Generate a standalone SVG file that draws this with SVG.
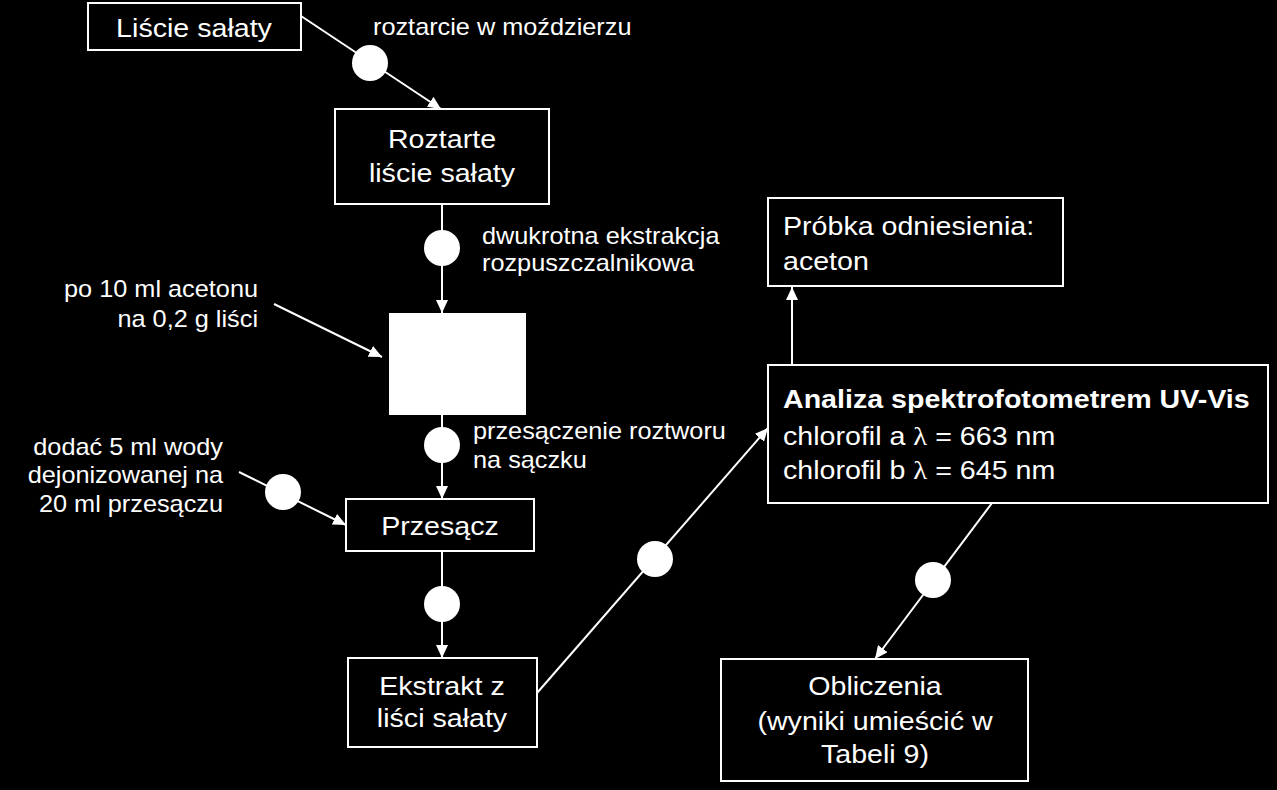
<svg xmlns="http://www.w3.org/2000/svg" width="1277" height="790" viewBox="0 0 1277 790">
<style>
.box{fill:#000;stroke:#fff;stroke-width:2}
.t{font-family:"Liberation Sans",Arial,sans-serif;fill:#fff;font-size:26px}
.l{font-family:"Liberation Sans",Arial,sans-serif;fill:#fff;font-size:23px}
.b{font-weight:bold}
.c{text-anchor:middle}
.e{text-anchor:end}
.sym{font-family:"Liberation Serif","Times New Roman",serif}
.ln{stroke:#fff;stroke-width:2;fill:none}
.dot{fill:#fff}
</style>
<defs>
<marker id="ah" markerUnits="userSpaceOnUse" markerWidth="13" markerHeight="12" refX="13" refY="6" orient="auto">
<path d="M0,0 L13,6 L0,12 z" fill="#fff"/>
</marker>
</defs>
<rect width="1277" height="790" fill="#000"/>

<g id="connectors">
<line class="ln" x1="301" y1="16" x2="441" y2="109" marker-end="url(#ah)"/>
<circle class="dot" cx="370" cy="63" r="18"/>
<line class="ln" x1="442" y1="204" x2="442" y2="313" marker-end="url(#ah)"/>
<circle class="dot" cx="442" cy="248" r="18"/>
<line class="ln" x1="274" y1="304" x2="382" y2="357" marker-end="url(#ah)"/>
<line class="ln" x1="442" y1="415" x2="442" y2="499" marker-end="url(#ah)"/>
<circle class="dot" cx="442" cy="445" r="18"/>
<line class="ln" x1="239" y1="472" x2="346" y2="525" marker-end="url(#ah)"/>
<circle class="dot" cx="283" cy="492" r="18"/>
<line class="ln" x1="442" y1="551" x2="442" y2="658" marker-end="url(#ah)"/>
<circle class="dot" cx="442" cy="604" r="18"/>
<line class="ln" x1="537" y1="693" x2="768" y2="428" marker-end="url(#ah)"/>
<circle class="dot" cx="655" cy="559" r="18"/>
<line class="ln" x1="792" y1="365" x2="792" y2="287" marker-end="url(#ah)"/>
<line class="ln" x1="992" y1="503" x2="875" y2="659" marker-end="url(#ah)"/>
<circle class="dot" cx="933" cy="580" r="18"/>
</g>

<g id="labels">
<text class="l" transform="translate(373 35) scale(1.1 1)">roztarcie w moździerzu</text>
<text class="l" transform="translate(482 244) scale(1.1 1)">dwukrotna ekstrakcja</text>
<text class="l" transform="translate(482 271) scale(1.1 1)">rozpuszczalnikowa</text>
<text class="l e" transform="translate(258 297) scale(1.1 1)">po 10 ml acetonu</text>
<text class="l e" transform="translate(258 327) scale(1.1 1)">na 0,2 g liści</text>
<text class="l" transform="translate(473 439) scale(1.1 1)">przesączenie roztworu</text>
<text class="l" transform="translate(473 468) scale(1.1 1)">na sączku</text>
<text class="l e" transform="translate(223 455) scale(1.1 1)">dodać 5 ml wody</text>
<text class="l e" transform="translate(223 483) scale(1.1 1)">dejonizowanej na</text>
<text class="l e" transform="translate(223 512) scale(1.1 1)">20 ml przesączu</text>
</g>

<g id="n-lisc">
<rect class="box" x="88" y="3" width="213" height="47"/>
<text class="t c" transform="translate(194 37) scale(1.1 1)">Liście sałaty</text>
</g>

<g id="n-roztarte">
<rect class="box" x="335" y="109" width="214" height="95"/>
<text class="t c" transform="translate(442 148) scale(1.1 1)">Roztarte</text>
<text class="t c" transform="translate(442 182) scale(1.1 1)">liście sałaty</text>
</g>

<g id="n-square">
<rect x="389" y="313" width="137" height="102" fill="#fff"/>
</g>

<g id="n-przesacz">
<rect class="box" x="346" y="499" width="188" height="52"/>
<text class="t c" transform="translate(440 535) scale(1.1 1)">Przesącz</text>
</g>

<g id="n-ekstrakt">
<rect class="box" x="348" y="658" width="189" height="89"/>
<text class="t c" transform="translate(442 695) scale(1.1 1)">Ekstrakt z</text>
<text class="t c" transform="translate(442 727) scale(1.1 1)">liści sałaty</text>
</g>

<g id="n-probka">
<rect class="box" x="768" y="198" width="295" height="88"/>
<text class="t" transform="translate(783 235) scale(1.1 1)">Próbka odniesienia:</text>
<text class="t" transform="translate(783 270) scale(1.1 1)">aceton</text>
</g>

<g id="n-analiza">
<rect class="box" x="768" y="365" width="500" height="138"/>
<text class="t b" transform="translate(783 408) scale(1.1 1)">Analiza spektrofotometrem UV-Vis</text>
<text class="t" transform="translate(783 445) scale(1.1 1)">chlorofil a <tspan class="sym">λ</tspan> = 663 nm</text>
<text class="t" transform="translate(783 479) scale(1.1 1)">chlorofil b <tspan class="sym">λ</tspan> = 645 nm</text>
</g>

<g id="n-obliczenia">
<rect class="box" x="721" y="659" width="307" height="122"/>
<text class="t c" transform="translate(875 695) scale(1.1 1)">Obliczenia</text>
<text class="t c" transform="translate(875 730) scale(1.1 1)">(wyniki umieścić w</text>
<text class="t c" transform="translate(875 763) scale(1.1 1)">Tabeli 9)</text>
</g>
</svg>
